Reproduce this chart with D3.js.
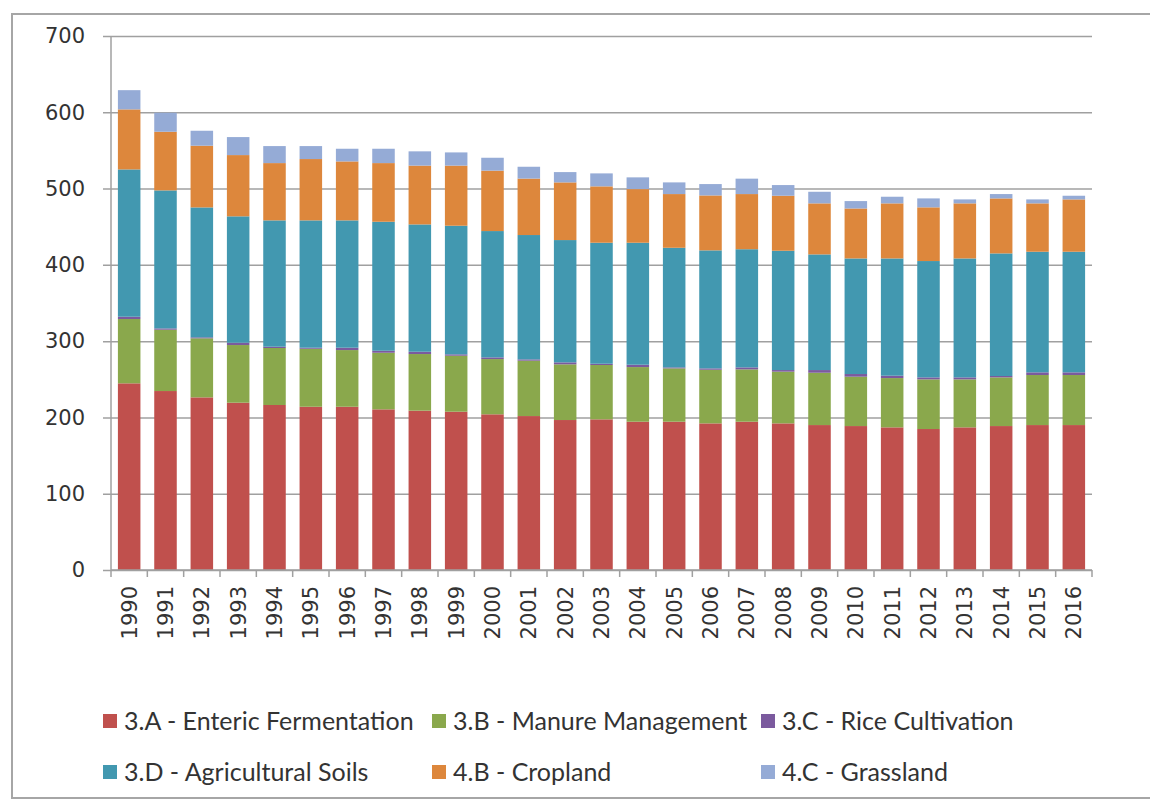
<!DOCTYPE html>
<html>
<head>
<meta charset="utf-8">
<script src="https://cdn.jsdelivr.net/npm/d3@7"></script>
<style>
  body { margin: 0; background: #fff; }
  svg { display: block; }
  .tick text { fill: #333; }
</style>
</head>
<body>
<div id="chart"></div>
<script>

// data (stacked, bottom to top)
var years = ["1990","1991","1992","1993","1994","1995","1996","1997","1998","1999",
             "2000","2001","2002","2003","2004","2005","2006","2007","2008","2009",
             "2010","2011","2012","2013","2014","2015","2016"];

var enteric  = [244.7,234.6,226.3,219.3,216.3,214.0,214.0,210.6,208.9,207.5,
                204.1,201.8,196.6,197.5,194.4,194.4,192.2,194.4,192.2,190.0,
                188.7,187.0,184.8,187.0,188.7,190.0,190.0];
var manure   = [84.3,80.4,77.4,75.6,74.7,76.0,74.3,74.2,74.2,73.4,
                72.4,72.6,73.0,71.2,71.6,69.9,70.3,68.6,67.8,68.6,
                64.7,64.6,65.1,62.9,63.8,65.6,65.6];
var rice     = [3.0,1.7,1.3,3.0,1.7,1.4,3.1,2.6,3.0,1.8,
                2.2,1.7,2.6,1.7,3.1,1.3,1.8,2.6,2.1,3.5,
                3.5,3.1,2.6,2.6,1.8,3.5,3.5];
var soils    = [193.1,180.9,170.3,165.7,165.6,166.9,166.9,169.1,166.9,168.6,
                165.6,163.0,160.3,158.6,159.9,156.8,154.7,154.9,156.4,151.6,
                151.5,153.7,152.5,155.9,160.7,158.1,158.1];
var cropland = [78.7,76.9,80.9,80.3,75.1,80.4,77.3,76.9,77.1,78.8,
                79.2,74.0,75.6,73.9,70.3,70.4,72.0,72.3,72.1,66.9,
                65.5,72.2,70.4,72.2,72.1,63.4,68.6];
var grass    = [25.2,24.9,19.6,23.6,22.3,17.0,16.6,18.8,18.7,17.3,
                16.9,15.5,13.5,17.0,15.4,15.3,14.9,20.2,14.0,15.2,
                9.7,8.7,11.7,5.2,5.7,5.2,4.8];

var seriesKeys   = ["enteric","manure","rice","soils","cropland","grass"];
var seriesNames  = ["3.A - Enteric Fermentation","3.B - Manure Management","3.C - Rice Cultivation",
                    "3.D - Agricultural Soils","4.B - Cropland","4.C - Grassland"];
var seriesColors = ["#c0504d","#8aa84c","#7b5a9e","#4298b0","#dd873c","#95abd6"];
var yTicks = [0,100,200,300,400,500,600,700];

var table = years.map(function(y, i) {
  return {year: y, enteric: enteric[i], manure: manure[i], rice: rice[i],
          soils: soils[i], cropland: cropland[i], grass: grass[i]};
});

var W = 1150, H = 800;
var margin = {top: 36, left: 111};
var plot_w = 981, plot_h = 534;

var svg = d3.select("#chart").append("svg")
  .attr("width", W).attr("height", H);

// outer frame
svg.append("rect")
  .attr("x", 12).attr("y", 14)
  .attr("width", W + 10).attr("height", 784)
  .attr("fill", "none").attr("stroke", "#a6a6a6").attr("stroke-width", 2);

var g = svg.append("g").attr("transform", "translate(" + margin.left + "," + margin.top + ")");

var x = d3.scaleBand().domain(years).range([0, plot_w]).paddingInner(0.38).paddingOuter(0.19);
var y = d3.scaleLinear().domain([0, 700]).range([plot_h, 0]);

// y axis + gridlines
var yAxis = g.append("g")
  .attr("transform", "translate(-8,0)")
  .call(d3.axisLeft(y).tickValues(yTicks).tickSize(-(plot_w + 8)).tickPadding(18));
yAxis.select(".domain").remove();
yAxis.selectAll(".tick line").attr("stroke", "#a0a0a0").attr("stroke-width", 1.5);
yAxis.selectAll(".tick text")
  .style("font-family", "DejaVu Sans").style("font-size", "21px");

g.append("line")
  .attr("x1", 0).attr("x2", 0).attr("y1", 0).attr("y2", plot_h)
  .attr("stroke", "#a0a0a0").attr("stroke-width", 1.5);

// stacked bars
var stack = d3.stack().keys(seriesKeys);
var layers = stack(table);

g.selectAll(".layer")
  .data(layers)
  .enter().append("g")
    .attr("class", "layer")
    .attr("fill", function(d, i) { return seriesColors[i]; })
  .selectAll("rect")
  .data(function(d) { return d; })
  .enter().append("rect")
    .attr("x", function(d) { return x(d.data.year); })
    .attr("width", x.bandwidth())
    .attr("y", function(d) { return y(d[1]); })
    .attr("height", function(d) { return y(d[0]) - y(d[1]); });

// x axis: baseline, boundary ticks, rotated labels
var gap = x.step() - x.bandwidth();
var bounds = years.map(function(d) { return x(d) - gap / 2; }).concat([plot_w]);

var xg = g.append("g").attr("transform", "translate(0," + plot_h + ")");
xg.append("line")
  .attr("x1", 0).attr("x2", plot_w)
  .attr("stroke", "#a0a0a0").attr("stroke-width", 1.5);
xg.selectAll(".xtick")
  .data(bounds)
  .enter().append("line")
    .attr("class", "xtick")
    .attr("x1", function(d) { return d; }).attr("x2", function(d) { return d; })
    .attr("y1", 0).attr("y2", 7)
    .attr("stroke", "#a0a0a0").attr("stroke-width", 1.5);
xg.selectAll(".xlabel")
  .data(years)
  .enter().append("text")
    .attr("class", "xlabel")
    .attr("transform", function(d) {
      return "translate(" + (x(d) + x.bandwidth() / 2) + ",16) rotate(-90)";
    })
    .attr("dy", "0.36em")
    .attr("text-anchor", "end")
    .style("font-family", "DejaVu Sans").style("font-size", "21px")
    .attr("fill", "#333")
    .text(function(d) { return d; });

// legend
var legendCols = [103, 432, 761];
var legendRows = [721, 772];

var legend = svg.selectAll(".legend")
  .data(seriesNames)
  .enter().append("g")
    .attr("class", "legend")
    .attr("transform", function(d, i) {
      return "translate(" + legendCols[i % 3] + "," + legendRows[Math.floor(i / 3)] + ")";
    });

legend.append("rect")
  .attr("x", 0).attr("y", -7)
  .attr("width", 14).attr("height", 14)
  .attr("fill", function(d, i) { return seriesColors[i]; });

legend.append("text")
  .attr("x", 21).attr("dy", "0.35em")
  .style("font-family", "Lato").style("font-size", "25px")
  .attr("fill", "#333")
  .text(function(d) { return d; });

</script>
</body>
</html>
